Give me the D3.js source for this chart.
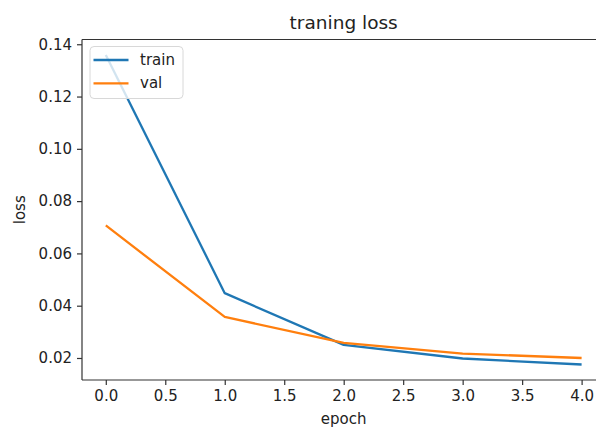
<!DOCTYPE html>
<html><head><meta charset="utf-8">
<script src="https://cdn.jsdelivr.net/npm/d3@7"></script>
<style>html,body{margin:0;background:#fff;overflow:hidden;}svg{display:block;font-family:"DejaVu Sans",sans-serif;}</style>
</head><body>
<svg id="c" width="596" height="428"></svg>
<script>
const epochs = [0, 1, 2, 3, 4];
const trainLoss = [0.1359, 0.0448, 0.0250, 0.0198, 0.0175];
const valLoss = [0.0707, 0.0357, 0.0258, 0.0217, 0.0200];
const xTicks = [0, 0.5, 1, 1.5, 2, 2.5, 3, 3.5, 4];
const yTicks = [0.02, 0.04, 0.06, 0.08, 0.10, 0.12, 0.14];
const seriesNames = ["train", "val"];
const colors = ["#1f77b4", "#ff7f0e"];

(function () {
const svg = d3.select("#c");
const pL = 82, pR = 605.4, pT = 39.5, pB = 380;
const allVals = trainLoss.concat(valLoss);
const ymn = d3.min(allVals), ymx = d3.max(allVals), pad = (ymx - ymn) * 0.05;
const x = d3.scaleLinear().domain([-0.2, 4.2]).range([pL, pR]);
const y = d3.scaleLinear().domain([ymn - pad, ymx + pad]).range([pB, pT]);

const fs = 15;
const xAxis = svg.append("g").attr("transform", `translate(0,${pB})`)
  .call(d3.axisBottom(x).tickValues(xTicks).tickFormat(d3.format(".1f")).tickSize(5).tickPadding(5));
const yAxis = svg.append("g").attr("transform", `translate(${pL},0)`)
  .call(d3.axisLeft(y).tickValues(yTicks).tickFormat(d3.format(".2f")).tickSize(5).tickPadding(5));
[xAxis, yAxis].forEach(a => {
  a.select(".domain").remove();
  a.selectAll("line").attr("stroke", "#333").attr("stroke-width", 1.2);
  a.selectAll("text").attr("fill", "#222").style("font-size", fs + "px").style("font-family", "DejaVu Sans");
});

const line = d3.line().x((d, i) => x(epochs[i])).y(d => y(d));
[trainLoss, valLoss].forEach((s, k) => {
  svg.append("path").datum(s).attr("d", line).attr("fill", "none")
    .attr("stroke", colors[k]).attr("stroke-width", 2.3).attr("stroke-linejoin", "round");
});

const frame = svg.append("g").attr("stroke", "#333").attr("stroke-width", 1.2);
frame.append("line").attr("x1", pL).attr("x2", pL).attr("y1", pT).attr("y2", pB);
frame.append("line").attr("x1", pL).attr("x2", pR).attr("y1", pT).attr("y2", pT);
frame.append("line").attr("x1", pL).attr("x2", pR).attr("y1", pB).attr("y2", pB);

const lg = svg.append("g");
lg.append("rect").attr("x", 90).attr("y", 46.5).attr("width", 93).attr("height", 52).attr("rx", 4)
  .attr("fill", "rgba(255,255,255,0.8)").attr("stroke", "#d8d8d8").attr("stroke-width", 1);
seriesNames.forEach((n, k) => {
  const ly = 60 + k * 23.3;
  lg.append("line").attr("x1", 93.5).attr("x2", 128.5).attr("y1", ly).attr("y2", ly)
    .attr("stroke", colors[k]).attr("stroke-width", 2.3);
  lg.append("text").attr("x", 140).attr("y", ly + 5).text(n).attr("fill", "#222").style("font-size", fs + "px");
});

svg.append("text").attr("x", (pL + pR) / 2).attr("y", 29).attr("text-anchor", "middle")
  .style("font-size", "18.5px").attr("fill", "#222").text("traning loss");
svg.append("text").attr("x", (pL + pR) / 2).attr("y", 424).attr("text-anchor", "middle")
  .style("font-size", fs + "px").attr("fill", "#222").text("epoch");
svg.append("text").attr("transform", `translate(25,${(pT + pB) / 2}) rotate(-90)`).attr("text-anchor", "middle")
  .style("font-size", fs + "px").attr("fill", "#222").text("loss");
})();
</script>
</body></html>
